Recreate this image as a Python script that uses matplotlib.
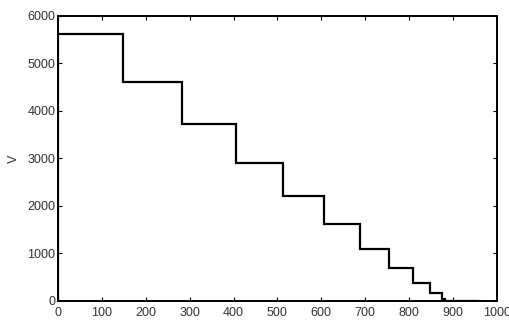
import numpy as np
import matplotlib.pyplot as plt

plt.rcParams['font.family'] = ['Liberation Sans', 'DejaVu Sans']

# step edges (x) and level of each step (V)
edges = [0, 147, 283, 406, 513, 606, 688, 754, 808, 848, 874, 882, 960]
levels = [5620, 4600, 3720, 2900, 2220, 1620, 1100, 700, 380, 170, 50, 10]

xticks = [0, 100, 200, 300, 400, 500, 600, 700, 800, 900, 1000]
yticks = [0, 1000, 2000, 3000, 4000, 5000, 6000]

fig = plt.figure(figsize=(5.09, 3.24), dpi=100)
ax = fig.add_axes([0.114, 0.071, 0.862, 0.880])

ax.stairs(levels, edges, color='black', linewidth=1.6)

ax.set_xlim(0, 1000)
ax.set_ylim(0, 6000)
ax.set_xticks(xticks)
ax.set_yticks(yticks)
ax.tick_params(direction='in', top=True, right=True, length=3, width=0.8,
               labelsize=9, labelcolor='#333333', pad=4)
ax.tick_params(axis='y', pad=2)
for s in ax.spines.values():
    s.set_linewidth(1.4)
ax.set_ylabel('V', fontsize=9, color='#333333', labelpad=5)

fig.savefig('out.png', dpi=100)
